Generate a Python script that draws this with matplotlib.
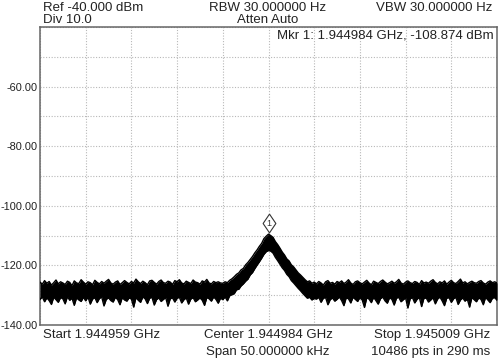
import matplotlib
matplotlib.use("Agg")
import matplotlib.pyplot as plt
import matplotlib.transforms as mtransforms
import numpy as np

# sweep: offset from centre frequency, kHz (span 50 kHz)
span_khz = 50.0

# upper / lower edge of the noisy trace (dBm), 0.25 kHz apart
upper_db = [
    -125.6, -126.3, -125.1, -126.0, -125.4, -126.6, -125.8, -124.9, -126.2, -125.5,
    -125.9, -126.4, -125.3, -125.7, -126.8, -125.2, -125.9, -126.1, -124.8, -125.6,
    -126.3, -125.5, -125.8, -126.5, -125.0, -125.7, -126.2, -125.4, -126.0, -125.3,
    -124.7, -125.9, -126.3, -125.6, -125.2, -126.4, -125.8, -125.1, -125.7, -126.2,
    -125.4, -125.9, -124.6, -125.5, -126.1, -125.3, -125.8, -126.5, -125.2, -125.0,
    -125.7, -126.3, -125.4, -124.9, -125.8, -126.0, -125.3, -125.6, -126.4, -125.1,
    -125.5, -124.8, -125.9, -126.2, -125.3, -125.7, -126.1, -124.9, -125.6, -125.8,
    -126.3, -125.2, -125.6, -124.7, -125.9, -126.2, -125.4, -125.8, -125.5, -125.9,
    # peak region
    -126.0, -125.5, -125.8, -125.0, -124.5, -123.8, -123.0, -122.5, -121.5, -121.0,
    -119.8, -119.0, -118.0, -117.0, -115.8, -114.8, -113.6, -112.6, -111.0, -110.2,
    -109.5,
    -110.0, -110.6, -112.0, -113.0, -114.2, -115.5, -116.5, -117.8, -118.5, -119.8,
    -120.5, -121.5, -122.5, -123.2, -124.0, -124.8, -125.5, -125.2, -126.0, -125.6,
    # right floor
    -126.2, -125.4, -125.9, -126.6, -125.5, -125.1, -126.0, -125.7, -126.3, -125.4,
    -125.8, -125.2, -126.1, -125.6, -124.8, -125.9, -126.4, -125.5, -125.2, -125.8,
    -126.2, -125.6, -125.0, -125.9, -126.5, -125.3, -125.7, -126.1, -125.4, -124.9,
    -125.6, -126.2, -125.8, -125.3, -126.0, -125.5, -124.7, -125.9, -126.3, -125.6,
    -125.2, -125.8, -126.1, -125.4, -125.7, -126.4, -125.1, -125.9, -125.6, -126.0,
    -125.3, -124.8, -125.7, -126.2, -125.5, -125.9, -125.2, -126.3, -125.6, -125.0,
    -125.8, -126.1, -125.4, -124.6, -125.9, -125.5, -126.2, -125.7, -125.3, -125.8,
    -126.0, -125.4, -125.1, -125.9, -126.3, -125.6, -125.2, -125.8, -125.5, -125.9,
]

lower_db = [
    -131.4, -130.6, -132.2, -130.9, -131.8, -133.1, -130.7, -131.5, -132.4, -130.8,
    -131.2, -132.9, -130.5, -131.7, -131.0, -133.4, -130.9, -131.6, -132.1, -130.7,
    -131.9, -130.6, -133.0, -131.3, -130.8, -132.5, -131.1, -130.6, -133.6, -131.4,
    -130.9, -131.8, -132.3, -130.7, -131.5, -133.2, -130.8, -131.6, -132.0, -130.9,
    -131.3, -134.0, -130.8, -131.7, -132.4, -130.6, -131.2, -132.8, -131.0, -130.7,
    -133.3, -131.5, -130.9, -132.1, -131.4, -130.8, -133.7, -131.2, -130.9, -132.3,
    -131.0, -130.7, -132.6, -131.5, -130.9, -133.0, -131.3, -130.8, -132.2, -131.6,
    -130.9, -131.7, -133.4, -130.8, -131.2, -132.0, -130.6, -131.4, -132.7, -131.0,
    # peak region
    -131.5, -130.6, -131.9, -130.2, -129.8, -129.5, -128.2, -128.0, -126.9, -126.2,
    -125.3, -124.6, -123.2, -122.4, -121.1, -119.9, -118.8, -117.6, -116.3, -115.4,
    -115.0,
    -115.2, -115.9, -117.3, -118.4, -119.6, -120.8, -121.7, -123.0, -123.8, -125.1,
    -125.9, -126.8, -127.7, -128.5, -129.4, -130.2, -131.0, -130.7, -131.6, -131.1,
    # right floor
    -131.3, -130.7, -132.4, -131.0, -130.8, -133.2, -131.5, -130.9, -132.0, -131.4,
    -130.6, -131.8, -133.5, -130.9, -131.2, -132.6, -130.7, -131.4, -132.1, -130.8,
    -131.6, -134.1, -130.9, -131.3, -132.5, -130.7, -131.8, -133.0, -131.2, -130.6,
    -131.9, -132.7, -130.8, -131.4, -133.3, -131.0, -130.7, -132.2, -131.5, -130.9,
    -134.3, -131.2, -130.8, -132.6, -131.4, -130.7, -133.8, -131.1, -130.9, -132.3,
    -131.6, -130.8, -132.9, -131.3, -130.6, -131.9, -133.5, -131.0, -130.8, -132.4,
    -131.2, -130.7, -133.1, -131.6, -130.9, -132.0, -131.3, -134.0, -130.8, -131.5,
    -132.2, -130.9, -131.4, -133.2, -130.7, -131.6, -132.5, -131.0, -130.8, -131.7,
]

marker_khz = 0.0
marker_db = -108.874

ref_db = -40.0
div_db = 10.0
ytick_labels = [-140, -120, -100, -80, -60]

x_khz = np.linspace(-span_khz / 2, span_khz / 2, len(upper_db))

W, H = 500, 360
fig = plt.figure(figsize=(W / 100, H / 100), dpi=100)
plt.rcParams["font.family"] = ["Liberation Sans", "DejaVu Sans"]
ax = fig.add_axes([40 / W, 1 - 325 / H, 457 / W, 298 / H])

ax.fill_between(x_khz, lower_db, upper_db, color="black", lw=0, zorder=3)
ax.plot(x_khz, upper_db, color="black", lw=1.0, zorder=3)
ax.plot(x_khz, lower_db, color="black", lw=1.0, zorder=3)

# marker diamond sitting on top of the peak
diamond = [(0, 1), (0.68, 0), (0, -1), (-0.68, 0), (0, 1)]
off = mtransforms.offset_copy(ax.transData, fig=fig, x=0, y=9, units="dots")
ax.plot([marker_khz], [marker_db], marker=diamond, ms=13.5, mfc="white",
        mec="#333333", mew=0.8, transform=off, clip_on=False, zorder=4)
ax.text(marker_khz, marker_db, "1", transform=off, ha="center", va="center",
        fontsize=6.5, color="#333333", zorder=5)

ax.set_xlim(-span_khz / 2, span_khz / 2)
ax.set_ylim(ref_db - 10 * div_db, ref_db)
ax.set_xticks(np.arange(-span_khz / 2, span_khz / 2 + 0.1, span_khz / 10))
ax.set_yticks(np.arange(ref_db - 10 * div_db, ref_db + 0.1, div_db))
ax.set_xticklabels([])
ax.set_yticklabels([f"{v:.2f}" if v in ytick_labels else "" for v in ax.get_yticks()])
ax.tick_params(length=0, labelsize=7.9, pad=1.5, labelcolor="#222222")
ax.grid(True, color="#b8b8b8", ls=(0, (1, 1.5)), lw=0.8, zorder=1)
for s in ax.spines.values():
    s.set_color("#666666")
    s.set_linewidth(1.1)

tc = "#222222"
fs = 9.5
def ftext(x, y, s, ha="left"):
    fig.text(x / W, 1 - y / H, s, ha=ha, va="center", fontsize=fs, color=tc)

ftext(43, 8, "Ref -40.000 dBm")
ftext(43, 20, "Div 10.0")
ftext(268, 8, "RBW 30.000000 Hz", ha="center")
ftext(268, 20, "Atten Auto", ha="center")
ftext(492, 8, "VBW 30.000000 Hz", ha="right")
ftext(494, 35, "Mkr 1: 1.944984 GHz, -108.874 dBm", ha="right")
ftext(43, 335, "Start 1.944959 GHz")
ftext(268, 335, "Center 1.944984 GHz", ha="center")
ftext(268, 352, "Span 50.000000 kHz", ha="center")
ftext(490, 335, "Stop 1.945009 GHz", ha="right")
ftext(490, 352, "10486 pts in 290 ms", ha="right")

fig.savefig("out.png", dpi=100, facecolor="white")
